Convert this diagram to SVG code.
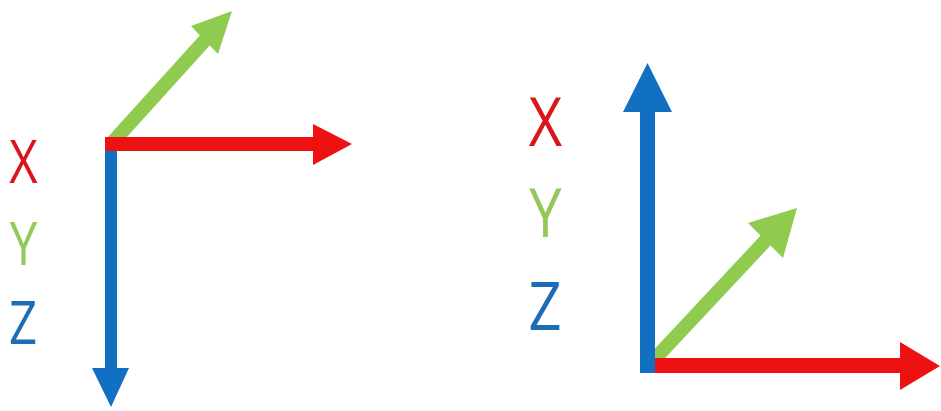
<svg xmlns="http://www.w3.org/2000/svg" width="941" height="411" viewBox="0 0 941 411">
<style>
.red{fill:#ee1111}
.grn{fill:#8fcb4f}
.blu{fill:#1170c2}
.gl{stroke:#8fcb4f;stroke-width:14;fill:none}
.lbl{font-family:"Open Sans","Noto Sans",sans-serif;text-anchor:middle}
.tx{fill:#d8161c}.ty{fill:#93c95a}.tz{fill:#1e6cb6}
</style>
<rect width="941" height="411" fill="#ffffff"/>
<g id="left-axes">
  <g id="left-y-arrow">
    <line class="gl" x1="111" y1="144" x2="207" y2="38"/>
    <polygon class="grn" points="232,11 191,26 218,54"/>
  </g>
  <g id="left-z-arrow">
    <rect class="blu" x="105" y="137" width="12" height="232"/>
    <polygon class="blu" points="92,368 129,368 111,407"/>
  </g>
  <g id="left-x-arrow">
    <rect class="red" x="105" y="137" width="209" height="14"/>
    <polygon class="red" points="313,124 352,144 313,165"/>
  </g>
  <g id="left-labels" class="lbl" font-size="60">
    <text class="tx" transform="translate(23.5,183) scale(0.82,1)">X</text>
    <text class="ty" transform="translate(23.5,265) scale(0.82,1)">Y</text>
    <text class="tz" transform="translate(23,344) scale(0.82,1)">Z</text>
  </g>
</g>
<g id="right-axes">
  <g id="right-y-arrow">
    <line class="gl" x1="650" y1="364" x2="767" y2="239"/>
    <polygon class="grn" points="797,208 748,223 783,258"/>
  </g>
  <g id="right-x-arrow">
    <rect class="red" x="645" y="358" width="256" height="15"/>
    <polygon class="red" points="900,342 940,366 900,390"/>
  </g>
  <g id="right-z-arrow">
    <rect class="blu" x="640" y="111" width="15" height="262"/>
    <polygon class="blu" points="623,112 672,112 647.5,63"/>
  </g>
  <g id="right-labels" class="lbl" font-size="68">
    <text class="tx" transform="translate(545.5,146) scale(0.85,1)">X</text>
    <text class="ty" transform="translate(545.5,237) scale(0.85,1)">Y</text>
    <text class="tz" transform="translate(545,330) scale(0.85,1)">Z</text>
  </g>
</g>
</svg>
